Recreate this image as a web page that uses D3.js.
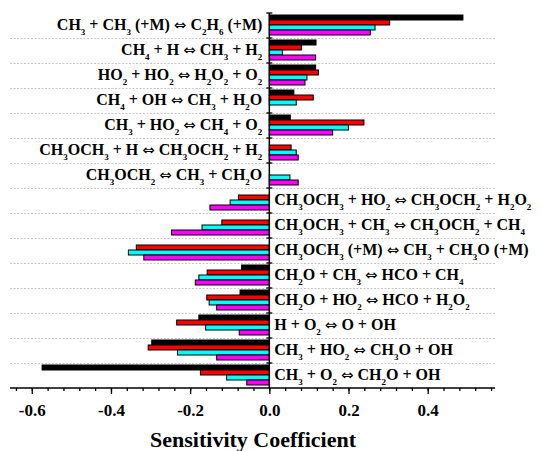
<!DOCTYPE html>
<html lang="en">
<head>
<meta charset="utf-8">
<title>Sensitivity Coefficient</title>
<script src="https://cdn.jsdelivr.net/npm/d3@7"></script>
<style>
  body { margin: 0; background: #fff; }
  text { font-family: "Liberation Serif", "Times New Roman", serif; font-weight: bold; fill: #000; }
</style>
</head>
<body>
<script>
// reactions, top to bottom ("_n" marks a subscript)
var reactions = [
  "CH_3 + CH_3 (+M) ⇔ C_2H_6 (+M)",
  "CH_4 + H ⇔ CH_3 + H_2",
  "HO_2 + HO_2 ⇔ H_2O_2 + O_2",
  "CH_4 + OH ⇔ CH_3 + H_2O",
  "CH_3 + HO_2 ⇔ CH_4 + O_2",
  "CH_3OCH_3 + H ⇔ CH_3OCH_2 + H_2",
  "CH_3OCH_2 ⇔ CH_3 + CH_2O",
  "CH_3OCH_3 + HO_2 ⇔ CH_3OCH_2 + H_2O_2",
  "CH_3OCH_3 + CH_3 ⇔ CH_3OCH_2 + CH_4",
  "CH_3OCH_3 (+M) ⇔ CH_3 + CH_3O (+M)",
  "CH_2O + CH_3 ⇔ HCO + CH_4",
  "CH_2O + HO_2 ⇔ HCO + H_2O_2",
  "H + O_2 ⇔ O + OH",
  "CH_3 + HO_2 ⇔ CH_3O + OH",
  "CH_3 + O_2 ⇔ CH_2O + OH"
];
var seriesNames = ["s1", "s2", "s3", "s4"];
var seriesColors = ["#000000", "#ff0000", "#00ffff", "#ff00ff"];
var s1 = [0.489, 0.118, 0.117, 0.062, 0.053, null, null, null, null, null, -0.070, -0.074, -0.178, -0.297, -0.574];
var s2 = [0.304, 0.081, 0.124, 0.111, 0.239, 0.055, null, -0.078, -0.120, -0.336, -0.157, -0.158, -0.234, -0.306, -0.174];
var s3 = [0.267, 0.033, 0.095, 0.068, 0.200, 0.068, 0.052, -0.099, -0.170, -0.356, -0.178, -0.152, -0.161, -0.232, -0.108];
var s4 = [0.255, 0.117, 0.090, null, 0.160, 0.073, 0.073, -0.150, -0.247, -0.317, -0.187, -0.133, -0.076, -0.133, -0.057];
var majorTicks = [-0.6, -0.4, -0.2, 0.0, 0.2, 0.4];

var w = 541, h = 451;
var padLeft = 10, padRight = 495, padTop = 13, padBottom = 388;

var allSeries = [s1, s2, s3, s4];
var bars = [];
reactions.forEach(function(r, i) {
  allSeries.forEach(function(s, k) {
    if (s[i] != null) bars.push({ reaction: r, key: seriesNames[k], color: seriesColors[k], value: s[i] });
  });
});

var xScale = d3.scaleLinear().domain([-0.655, 0.57]).range([padLeft, padRight]);
var yScale = d3.scaleBand().domain(reactions).range([padTop, padBottom]);
var ySub = d3.scaleBand().domain(seriesNames).range([2, 22]);

var svg = d3.select("body").append("svg")
  .attr("width", w)
  .attr("height", h);

// dotted separators between reactions
svg.append("g").selectAll("line")
  .data(reactions.slice(1))
  .enter().append("line")
  .attr("x1", padLeft).attr("x2", padRight)
  .attr("y1", function(d) { return yScale(d) + 0.5; })
  .attr("y2", function(d) { return yScale(d) + 0.5; })
  .attr("stroke", "#c8c8c8")
  .attr("stroke-dasharray", "2,1.5");

// bars
svg.append("g").selectAll("rect")
  .data(bars)
  .enter().append("rect")
  .attr("x", function(d) { return xScale(Math.min(0, d.value)); })
  .attr("width", function(d) { return Math.abs(xScale(d.value) - xScale(0)); })
  .attr("y", function(d) { return yScale(d.reaction) + ySub(d.key); })
  .attr("height", ySub.bandwidth())
  .attr("fill", function(d) { return d.color; })
  .attr("stroke", "#000")
  .attr("stroke-width", 1);

// x axis
var minorTicks = d3.range(-16, 15).map(function(i) { return +(i * 0.04).toFixed(2); });
var xAxisMinor = d3.axisBottom(xScale).tickValues(minorTicks).tickSize(3).tickFormat("");
var xAxis = d3.axisBottom(xScale).tickValues(majorTicks).tickSize(6).tickPadding(10);

svg.append("g")
  .attr("transform", "translate(0," + padBottom + ")")
  .call(xAxisMinor)
  .call(function(g) { g.select(".domain").remove(); })
  .selectAll("line").attr("stroke-width", 1.3);

var gx = svg.append("g")
  .attr("transform", "translate(0," + padBottom + ")")
  .call(xAxis);
gx.select(".domain").attr("d", "M" + padLeft + ",0H" + padRight).attr("stroke-width", 1.5);
gx.selectAll("line").attr("stroke-width", 1.3);
gx.selectAll("text")
  .style("font-size", "17px")
  .style("font-family", "'Liberation Serif', serif")
  .style("font-weight", "bold")
  .text(function(d) { return d3.format(".1f")(d).replace("\u2212", "-"); });

// vertical zero axis with ticks at reaction boundaries
var gy = svg.append("g");
gy.append("line")
  .attr("x1", xScale(0)).attr("x2", xScale(0))
  .attr("y1", padTop).attr("y2", padBottom)
  .attr("stroke", "#000")
  .attr("stroke-width", 1.5);
gy.selectAll("line.sep")
  .data(reactions)
  .enter().append("line")
  .attr("class", "sep")
  .attr("x1", xScale(0) - 3).attr("x2", xScale(0) + 3)
  .attr("y1", function(d) { return yScale(d); })
  .attr("y2", function(d) { return yScale(d); })
  .attr("stroke", "#000")
  .attr("stroke-width", 1.3);

// reaction labels
var labels = svg.append("g").selectAll("text")
  .data(reactions)
  .enter().append("text")
  .style("font-size", "16px")
  .attr("x", function(d, i) { return s3[i] > 0 ? xScale(0) - 7 : xScale(0) + 5; })
  .attr("y", function(d) { return yScale(d) + yScale.bandwidth() / 2 + 4; })
  .attr("text-anchor", function(d, i) { return s3[i] > 0 ? "end" : "start"; });

labels.each(function(d) {
  var t = d3.select(this);
  var parts = d.split(/(_\d|⇔)/);
  var shifted = false;
  parts.forEach(function(p) {
    if (p === "") return;
    if (p.charAt(0) === "_") {
      t.append("tspan").style("font-size", "9px").attr("dy", shifted ? 0 : 5).text(p.slice(1));
      shifted = true;
    } else if (p === "⇔") {
      t.append("tspan").attr("dy", shifted ? -5 : 0)
        .style("font-family", "'DejaVu Sans', sans-serif")
        .style("font-weight", "normal")
        .style("font-size", "15px")
        .text(p);
      shifted = false;
    } else {
      t.append("tspan").attr("dy", shifted ? -5 : 0).text(p);
      shifted = false;
    }
  });
});

// axis title
svg.append("text")
  .attr("x", 253)
  .attr("y", 447)
  .attr("text-anchor", "middle")
  .style("font-size", "22px")
  .text("Sensitivity Coefficient");
</script>
</body>
</html>
